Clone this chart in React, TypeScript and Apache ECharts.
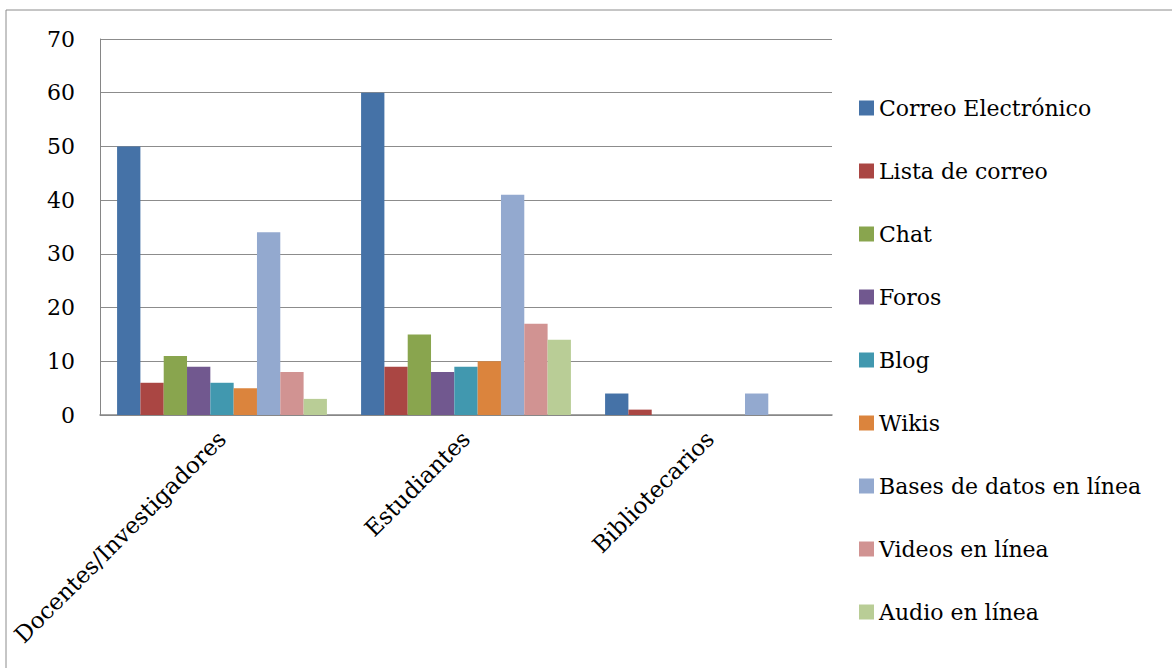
import React, { useEffect, useRef } from "react";
import * as echarts from "echarts";

const categories = ["Docentes/Investigadores", "Estudiantes", "Bibliotecarios"];
const seriesNames = [
  "Correo Electrónico",
  "Lista de correo",
  "Chat",
  "Foros",
  "Blog",
  "Wikis",
  "Bases de datos en línea",
  "Videos en línea",
  "Audio en línea",
];
const correo = [50, 60, 4];
const lista = [6, 9, 1];
const chat = [11, 15, 0];
const foros = [9, 8, 0];
const blog = [6, 9, 0];
const wikis = [5, 10, 0];
const bases = [34, 41, 4];
const videos = [8, 17, 0];
const audio = [3, 14, 0];
const seriesValues = [correo, lista, chat, foros, blog, wikis, bases, videos, audio];
const colors = ["#4572A7", "#AA4643", "#89A54E", "#71588F", "#4198AF", "#DB843D", "#93A9CF", "#D19392", "#B9CD96"];
const yTicks = { min: 0, max: 70, interval: 10 };

const FONT = "DejaVu Serif";

export default function App() {
  const ref = useRef<HTMLDivElement>(null);
  useEffect(() => {
    if (!ref.current) return;
    const chart = echarts.init(ref.current, null, { renderer: "svg" });
    chart.setOption({
      animation: false,
      color: colors,
      graphic: [
        {
          type: "rect",
          shape: { x: 6, y: 10, width: 1200, height: 700 },
          style: { fill: "none", stroke: "#8c8c8c", lineWidth: 1 },
          silent: true,
        },
      ],
      grid: { left: 100, right: 340, top: 39, bottom: 253 },
      legend: {
        orient: "vertical",
        left: 854,
        top: 92,
        itemWidth: 15,
        itemHeight: 15,
        itemGap: 41,
        icon: "rect",
        textStyle: { fontFamily: FONT, fontSize: 22, color: "#000" },
        data: seriesNames,
      },
      xAxis: {
        type: "category",
        data: categories,
        axisLine: { show: true, lineStyle: { color: "#868686", width: 1.5 } },
        axisTick: { show: false },
        axisLabel: {
          interval: 0,
          rotate: 45,
          margin: 20,
          fontFamily: FONT,
          fontSize: 23,
          color: "#000",
        },
      },
      yAxis: {
        type: "value",
        min: yTicks.min,
        max: yTicks.max,
        interval: yTicks.interval,
        axisLine: { show: true, lineStyle: { color: "#868686", width: 1 } },
        axisTick: { show: false },
        splitLine: { show: true, lineStyle: { color: "#8c8c8c", width: 1 } },
        axisLabel: { margin: 25, fontFamily: FONT, fontSize: 22, color: "#000" },
      },
      series: seriesNames.map((name, i) => ({
        name,
        type: "bar",
        data: seriesValues[i],
        barGap: "0%",
        barCategoryGap: "14%",
        itemStyle: { color: colors[i] },
      })),
    });
    return () => chart.dispose();
  }, []);
  return (
    <div
      ref={ref}
      style={{ position: "absolute", left: 0, top: 0, width: 1172, height: 668, background: "#fff" }}
    />
  );
}
